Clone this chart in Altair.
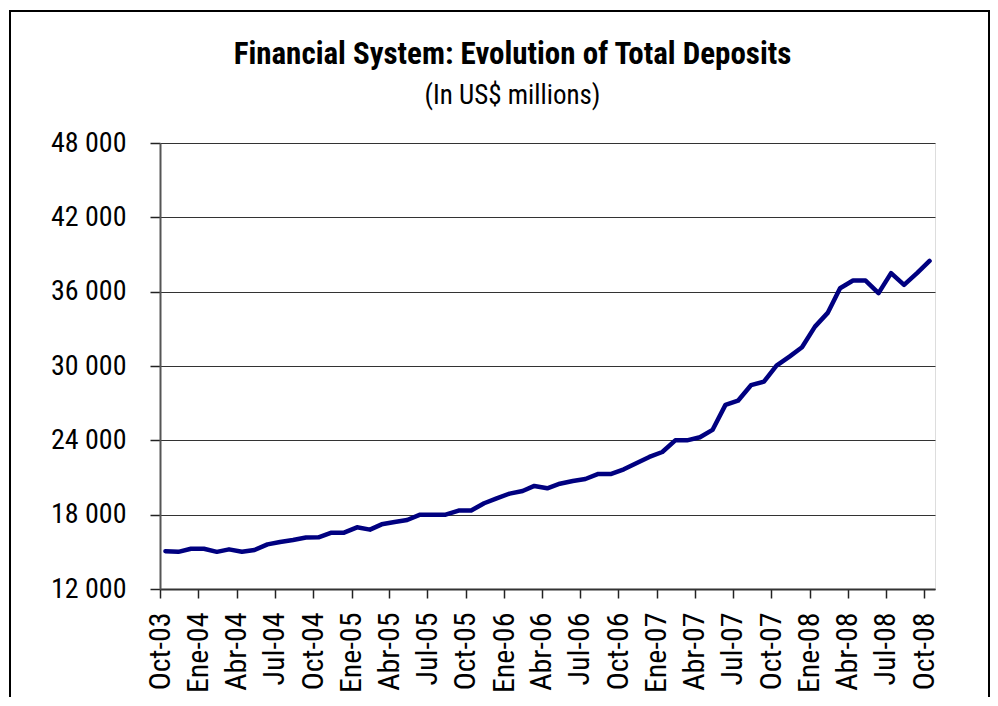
import altair as alt
import pandas as pd

# ---- data ----
month_abbr = ["Ene", "Feb", "Mar", "Abr", "May", "Jun", "Jul", "Ago", "Sep", "Oct", "Nov", "Dic"]
deposits = [
    15050, 15000, 15250, 15250, 15000, 15200, 15000, 15150, 15600, 15800,
    15960, 16150, 16170, 16550, 16550, 16980, 16790, 17220, 17410, 17570,
    18000, 18000, 18000, 18330, 18330, 18920, 19320, 19700, 19910, 20320,
    20130, 20500, 20720, 20880, 21290, 21290, 21660, 22170, 22660, 23060,
    24000, 24000, 24250, 24840, 26860, 27200, 28450, 28740, 30030, 30760,
    31510, 33180, 34310, 36280, 36900, 36900, 35880, 37500, 36550, 37500,
    38480,
]
months = pd.date_range("2003-10-01", periods=len(deposits), freq="MS") + pd.Timedelta(days=13)
tick_dates = pd.date_range("2003-10-01", "2008-10-01", freq="3MS")
y_ticks = [12000, 18000, 24000, 30000, 36000, 42000, 48000]

df = pd.DataFrame({"month": months, "deposits": deposits})

NARROW = "Liberation Sans Narrow, Arial Narrow, Roboto Condensed, DejaVu Sans Condensed, sans-serif"

mo_expr = "[" + ",".join("'%s'" % m for m in month_abbr) + "]"
x_label_expr = mo_expr + "[month(datum.value)] + '-' + timeFormat(datum.value, '%y')"

x_enc = alt.X(
    "month:T",
    title=None,
    scale=alt.Scale(domain=[alt.DateTime(year=2003, month=10, date=1),
                            alt.DateTime(year=2008, month=10, date=27)]),
    axis=alt.Axis(
        values=[alt.DateTime(year=d.year, month=d.month, date=1) for d in tick_dates],
        labelExpr=x_label_expr,
        labelAngle=270,
        labelFont=NARROW,
        labelFontSize=30,
        labelColor="black",
        labelPadding=14,
        tickSize=9,
        tickColor="#222",
        tickWidth=1.5,
        domainColor="#333",
        domainWidth=2,
        grid=False,
        labelOverlap=False,
    ),
)

y_enc = alt.Y(
    "deposits:Q",
    title=None,
    scale=alt.Scale(domain=[12000, 48000], nice=False, zero=False),
    axis=alt.Axis(
        values=y_ticks,
        labelExpr="replace(format(datum.value, ','), ',', ' ')",
        labelFont=NARROW,
        labelFontSize=28,
        labelColor="black",
        labelPadding=24,
        tickSize=10,
        tickColor="#222",
        tickWidth=1.5,
        domainColor="#555",
        domainWidth=2,
        grid=True,
        gridColor="#333",
        gridWidth=1,
    ),
)

line = alt.Chart(df).mark_line(color="#000080", strokeWidth=4.5, strokeJoin="round", strokeCap="round").encode(
    x=x_enc, y=y_enc
)

frame = alt.Chart(df).mark_rect(fill="transparent", stroke="black", strokeWidth=1.2).encode(
    x=alt.value(-150), x2=alt.value(829), y=alt.value(-132), y2=alt.value(650)
)

chart = (
    alt.layer(frame, line)
    .properties(
        width=775,
        height=446,
        autosize=alt.AutoSizeParams(type="none"),
        padding={"left": 152, "top": 135, "right": 55, "bottom": 108},
        title=alt.Title(
            "Financial System: Evolution of Total Deposits",
            subtitle="(In US$ millions)",
            anchor="middle",
            dx=-35,
            offset=-100,
            font=NARROW,
            fontSize=31,
            fontWeight="bold",
            color="black",
            subtitleFont=NARROW,
            subtitleFontSize=27,
            subtitleColor="black",
            subtitlePadding=12,
        ),
    )
    .configure_view(stroke="#888", strokeWidth=2)
    .configure(background="white")
)

chart.save("out.html", embed_options={"renderer": "svg", "actions": False})
